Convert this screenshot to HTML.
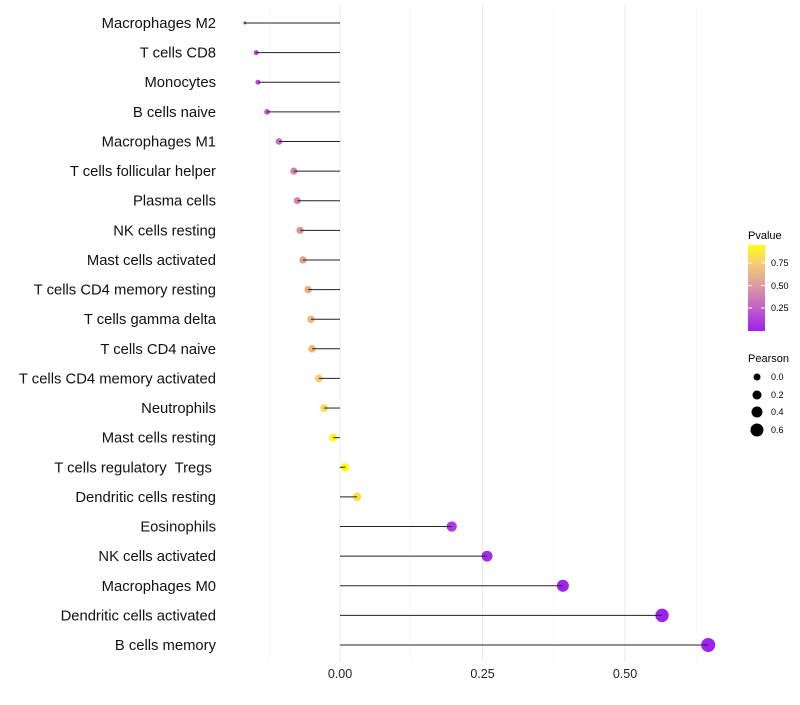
<!DOCTYPE html>
<html><head><meta charset="utf-8"><style>
body{margin:0;background:#fff;font-family:"Liberation Sans",sans-serif}
text{white-space:pre}
</style></head><body>
<svg id="chart" width="800" height="700" xmlns="http://www.w3.org/2000/svg">
<defs><linearGradient id="pg" x1="0" y1="1" x2="0" y2="0">
<stop offset="0" stop-color="#a020f0"/><stop offset="0.3" stop-color="#c468c0"/><stop offset="0.55" stop-color="#e0a0a0"/><stop offset="0.8" stop-color="#f5cf70"/><stop offset="1" stop-color="#ffff10"/></linearGradient></defs>
<g id="grid"></g><g id="marks"></g><g id="labels"></g>
<g font-size="10">
<text x="748" y="239" font-size="11">Pvalue</text>
<rect x="748" y="245" width="17" height="86" fill="url(#pg)"/>
<line x1="748" y1="263" x2="752" y2="263" stroke="#fff"/><line x1="761" y1="263" x2="765" y2="263" stroke="#fff"/>
<line x1="748" y1="285.5" x2="752" y2="285.5" stroke="#fff"/><line x1="761" y1="285.5" x2="765" y2="285.5" stroke="#fff"/>
<line x1="748" y1="308" x2="752" y2="308" stroke="#fff"/><line x1="761" y1="308" x2="765" y2="308" stroke="#fff"/>
<text x="771" y="266" font-size="9">0.75</text><text x="771" y="289" font-size="9">0.50</text><text x="771" y="311" font-size="9">0.25</text>
</g>
<g>
<text x="748" y="362" font-size="11">Pearson</text>
<circle cx="757" cy="377" r="3.5"/><text x="771" y="380" font-size="9">0.0</text>
<circle cx="757" cy="395" r="4.5"/><text x="771" y="398" font-size="9">0.2</text>
<circle cx="757" cy="412" r="5.5"/><text x="771" y="415" font-size="9">0.4</text>
<circle cx="757" cy="430" r="6.5"/><text x="771" y="433" font-size="9">0.6</text>
</g>
</svg>
<script>
const categories=["Macrophages M2","T cells CD8","Monocytes","B cells naive","Macrophages M1","T cells follicular helper","Plasma cells","NK cells resting","Mast cells activated","T cells CD4 memory resting","T cells gamma delta","T cells CD4 naive","T cells CD4 memory activated","Neutrophils","Mast cells resting","T cells regulatory  Tregs ","Dendritic cells resting","Eosinophils","NK cells activated","Macrophages M0","Dendritic cells activated","B cells memory"];
const pearson=[-0.167,-0.147,-0.144,-0.128,-0.107,-0.081,-0.075,-0.070,-0.065,-0.056,-0.051,-0.049,-0.037,-0.028,-0.012,0.009,0.030,0.196,0.258,0.391,0.565,0.646];
const pvalue=[0.05,0.15,0.17,0.22,0.28,0.38,0.41,0.45,0.5,0.58,0.62,0.64,0.74,0.8,0.92,0.95,0.83,0.1,0.04,0.01,0.001,0.0001];
const xTicks=[0,0.25,0.5];
const xTickLabels=["0.00","0.25","0.50"];
const NS="http://www.w3.org/2000/svg";
const x=v=>340+v*570;
const y=i=>23+i*(622/(categories.length-1));
const r=v=>Math.sqrt(v<-0.16?2.25:Math.max(6.25,16.6+50*v-(v<-0.1?(-0.1-v)*80:0)));
const stops=[[0,[160,32,240]],[0.2,[192,80,208]],[0.35,[210,120,170]],[0.45,[224,150,150]],[0.55,[236,168,128]],[0.65,[242,188,110]],[0.78,[246,212,90]],[0.88,[250,236,50]],[0.95,[255,255,0]]];
function col(p){p=Math.min(0.95,Math.max(0,p));for(let k=1;k<stops.length;k++){if(p<=stops[k][0]){const a=stops[k-1],b=stops[k],t=(p-a[0])/(b[0]-a[0]);return "rgb("+a[1].map((c,j)=>Math.round(c+(b[1][j]-c)*t)).join(",")+")";}}return "rgb(255,255,0)";}
function mk(t,attrs,parent){const e=document.createElementNS(NS,t);for(const k in attrs)e.setAttribute(k,attrs[k]);parent.appendChild(e);return e;}
const grid=document.getElementById('grid'),marks=document.getElementById('marks'),labels=document.getElementById('labels');
for(let v=-0.375;v<=0.7;v+=0.125){const gx=x(v);if(gx<200||gx>760)continue;const major=Math.abs((v*8)%2)<0.01;const l=mk('line',{x1:gx,x2:gx,y1:5,y2:662,stroke:major?'#ebebeb':'#f4f4f4','stroke-width':major?1:0.6},grid);

}
xTicks.forEach((v,i)=>{const t=mk('text',{x:x(v),y:678,'text-anchor':'middle','font-size':12.5,fill:'#222'},labels);t.textContent=xTickLabels[i];

});
categories.forEach((c,i)=>{
const t=mk('text',{x:216,y:y(i)+5,'text-anchor':'end','font-size':14.8,fill:'#111'},labels);t.textContent=c;


const d=mk('circle',{cx:x(pearson[i]),cy:y(i),r:r(pearson[i]),fill:col(pvalue[i])},marks);


const l=mk('line',{x1:x(0),x2:x(pearson[i]),y1:y(i),y2:y(i),stroke:'#222','stroke-width':1},marks);


});
</script>
</body></html>
